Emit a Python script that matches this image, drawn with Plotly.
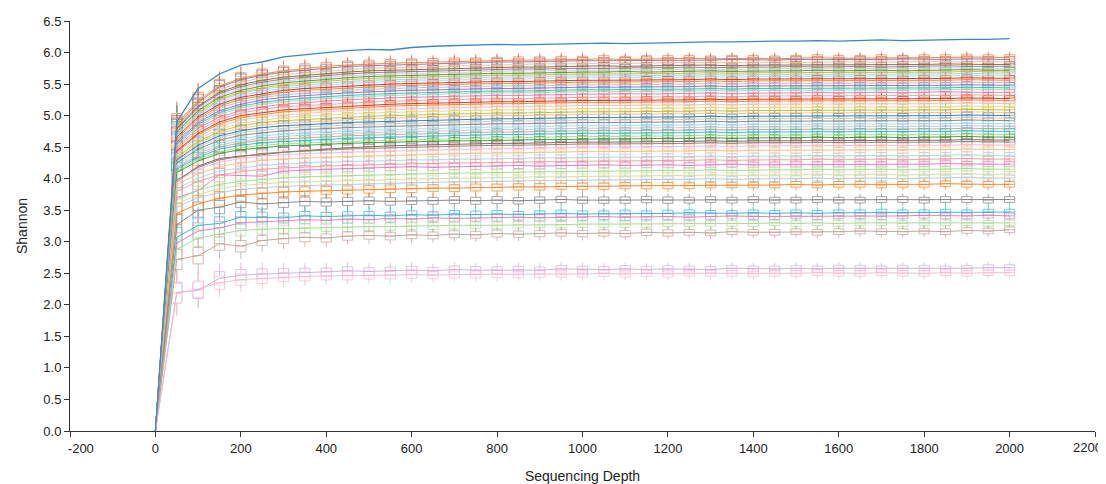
import plotly.graph_objects as go

# Sequencing depths (x categories)
depths = list(range(0, 2050, 50))

NB = "\u00a0"
x_tick_vals = [-200, 0, 200, 400, 600, 800, 1000, 1200, 1400, 1600, 1800, 2000, 2200]
x_tick_text = [NB * 6 + "-200", "0", "200", "400", "600", "800", "1000", "1200", "1400", "1600", "1800", "2000", ""]
last_tick_label = "2200"

# Top sample without replicate boxes
top_line = [0,
    4.90, 5.43, 5.66, 5.80, 5.85, 5.93, 5.97, 6.00, 6.03, 6.05,
    6.04, 6.08, 6.10, 6.11, 6.12, 6.13, 6.12, 6.13, 6.14, 6.15,
    6.15, 6.14, 6.15, 6.16, 6.16, 6.17, 6.17, 6.18, 6.18, 6.18,
    6.19, 6.18, 6.19, 6.20, 6.19, 6.20, 6.20, 6.21, 6.21, 6.22]

S01 = [0, 4.87, 5.24, 5.47, 5.59, 5.66, 5.71, 5.75, 5.78, 5.80, 5.82,
       5.83, 5.84, 5.85, 5.86, 5.86, 5.87, 5.88, 5.88, 5.89, 5.89,
       5.90, 5.89, 5.90, 5.90, 5.91, 5.90, 5.91, 5.91, 5.90, 5.91,
       5.92, 5.91, 5.91, 5.92, 5.91, 5.92, 5.92, 5.93, 5.92, 5.92]
S02 = [0, 4.84, 5.21, 5.45, 5.57, 5.64, 5.69, 5.72, 5.75, 5.78, 5.79,
       5.80, 5.82, 5.82, 5.83, 5.84, 5.85, 5.85, 5.86, 5.86, 5.87,
       5.87, 5.87, 5.88, 5.87, 5.88, 5.88, 5.89, 5.88, 5.88, 5.89,
       5.89, 5.88, 5.89, 5.89, 5.90, 5.89, 5.89, 5.90, 5.89, 5.89]
S03 = [0, 4.82, 5.18, 5.41, 5.53, 5.60, 5.65, 5.68, 5.71, 5.73, 5.75,
       5.76, 5.77, 5.78, 5.79, 5.80, 5.80, 5.81, 5.82, 5.82, 5.82,
       5.83, 5.83, 5.83, 5.84, 5.84, 5.83, 5.84, 5.84, 5.85, 5.84,
       5.85, 5.85, 5.84, 5.85, 5.85, 5.86, 5.85, 5.85, 5.86, 5.85]
S04 = [0, 4.80, 5.15, 5.37, 5.49, 5.56, 5.61, 5.64, 5.67, 5.69, 5.71,
       5.72, 5.73, 5.74, 5.75, 5.76, 5.76, 5.77, 5.77, 5.78, 5.78,
       5.79, 5.78, 5.79, 5.79, 5.80, 5.80, 5.79, 5.80, 5.80, 5.81,
       5.80, 5.81, 5.81, 5.80, 5.81, 5.81, 5.82, 5.81, 5.81, 5.81]
S05 = [0, 4.78, 5.13, 5.35, 5.46, 5.53, 5.58, 5.61, 5.64, 5.66, 5.68,
       5.69, 5.70, 5.71, 5.72, 5.72, 5.73, 5.74, 5.74, 5.75, 5.75,
       5.75, 5.76, 5.76, 5.76, 5.77, 5.76, 5.77, 5.77, 5.77, 5.78,
       5.77, 5.78, 5.78, 5.77, 5.78, 5.78, 5.79, 5.78, 5.78, 5.78]
S06 = [0, 4.75, 5.10, 5.32, 5.43, 5.50, 5.55, 5.58, 5.61, 5.63, 5.65,
       5.66, 5.67, 5.68, 5.69, 5.69, 5.70, 5.71, 5.71, 5.72, 5.72,
       5.72, 5.73, 5.73, 5.73, 5.74, 5.73, 5.74, 5.74, 5.74, 5.75,
       5.74, 5.75, 5.75, 5.74, 5.75, 5.75, 5.76, 5.75, 5.75, 5.75]
S07 = [0, 4.74, 5.08, 5.29, 5.40, 5.47, 5.52, 5.55, 5.58, 5.60, 5.62,
       5.63, 5.64, 5.65, 5.66, 5.66, 5.67, 5.67, 5.68, 5.68, 5.69,
       5.69, 5.70, 5.69, 5.70, 5.70, 5.71, 5.70, 5.71, 5.71, 5.71,
       5.72, 5.71, 5.72, 5.72, 5.71, 5.72, 5.72, 5.73, 5.72, 5.72]
S08 = [0, 4.71, 5.05, 5.26, 5.37, 5.44, 5.49, 5.52, 5.55, 5.57, 5.59,
       5.60, 5.61, 5.62, 5.63, 5.63, 5.64, 5.64, 5.65, 5.65, 5.66,
       5.66, 5.66, 5.67, 5.67, 5.67, 5.68, 5.67, 5.68, 5.68, 5.68,
       5.69, 5.68, 5.69, 5.69, 5.68, 5.69, 5.69, 5.70, 5.69, 5.69]
S09 = [0, 4.70, 5.03, 5.24, 5.35, 5.42, 5.46, 5.49, 5.52, 5.54, 5.56,
       5.57, 5.58, 5.59, 5.60, 5.60, 5.61, 5.61, 5.62, 5.62, 5.63,
       5.63, 5.63, 5.64, 5.64, 5.64, 5.65, 5.64, 5.65, 5.65, 5.65,
       5.66, 5.65, 5.66, 5.66, 5.65, 5.66, 5.66, 5.67, 5.66, 5.66]
S10 = [0, 4.68, 5.01, 5.21, 5.32, 5.39, 5.43, 5.46, 5.49, 5.51, 5.53,
       5.54, 5.55, 5.56, 5.57, 5.57, 5.58, 5.58, 5.59, 5.59, 5.60,
       5.60, 5.60, 5.61, 5.61, 5.61, 5.62, 5.61, 5.62, 5.62, 5.62,
       5.63, 5.62, 5.63, 5.63, 5.62, 5.63, 5.63, 5.64, 5.63, 5.63]
S11 = [0, 4.66, 4.98, 5.18, 5.29, 5.35, 5.40, 5.43, 5.45, 5.47, 5.49,
       5.50, 5.51, 5.52, 5.53, 5.53, 5.54, 5.54, 5.55, 5.55, 5.56,
       5.56, 5.56, 5.57, 5.57, 5.57, 5.58, 5.57, 5.58, 5.58, 5.58,
       5.59, 5.58, 5.59, 5.59, 5.58, 5.59, 5.59, 5.60, 5.59, 5.59]
S12 = [0, 4.63, 4.95, 5.15, 5.26, 5.32, 5.37, 5.40, 5.42, 5.44, 5.46,
       5.47, 5.48, 5.49, 5.50, 5.50, 5.51, 5.51, 5.52, 5.52, 5.53,
       5.53, 5.53, 5.54, 5.54, 5.54, 5.55, 5.54, 5.55, 5.55, 5.55,
       5.56, 5.55, 5.56, 5.56, 5.55, 5.56, 5.56, 5.57, 5.56, 5.56]
S13 = [0, 4.60, 4.92, 5.12, 5.22, 5.29, 5.33, 5.36, 5.38, 5.40, 5.42,
       5.43, 5.44, 5.45, 5.46, 5.46, 5.47, 5.47, 5.48, 5.48, 5.49,
       5.49, 5.49, 5.50, 5.50, 5.50, 5.51, 5.50, 5.51, 5.51, 5.51,
       5.52, 5.51, 5.52, 5.52, 5.51, 5.52, 5.52, 5.53, 5.52, 5.52]
S14 = [0, 4.58, 4.89, 5.08, 5.18, 5.25, 5.29, 5.32, 5.34, 5.36, 5.38,
       5.39, 5.40, 5.41, 5.42, 5.42, 5.43, 5.43, 5.44, 5.44, 5.45,
       5.45, 5.45, 5.46, 5.46, 5.46, 5.47, 5.46, 5.47, 5.47, 5.47,
       5.48, 5.47, 5.48, 5.48, 5.47, 5.48, 5.48, 5.49, 5.48, 5.48]
S15 = [0, 4.55, 4.86, 5.05, 5.15, 5.21, 5.25, 5.28, 5.30, 5.32, 5.34,
       5.35, 5.36, 5.37, 5.38, 5.38, 5.39, 5.39, 5.40, 5.40, 5.41,
       5.41, 5.41, 5.42, 5.42, 5.42, 5.43, 5.42, 5.43, 5.43, 5.43,
       5.44, 5.43, 5.44, 5.44, 5.43, 5.44, 5.44, 5.45, 5.44, 5.44]
S16 = [0, 4.53, 4.83, 5.02, 5.12, 5.18, 5.22, 5.25, 5.27, 5.29, 5.31,
       5.32, 5.33, 5.34, 5.34, 5.35, 5.36, 5.36, 5.37, 5.37, 5.38,
       5.38, 5.38, 5.39, 5.39, 5.39, 5.40, 5.39, 5.40, 5.40, 5.40,
       5.41, 5.40, 5.41, 5.41, 5.40, 5.41, 5.41, 5.42, 5.41, 5.41]
S17 = [0, 4.50, 4.80, 4.98, 5.08, 5.14, 5.18, 5.21, 5.23, 5.25, 5.27,
       5.28, 5.29, 5.30, 5.31, 5.31, 5.32, 5.32, 5.33, 5.33, 5.34,
       5.34, 5.35, 5.34, 5.35, 5.35, 5.36, 5.35, 5.36, 5.36, 5.36,
       5.37, 5.36, 5.37, 5.37, 5.36, 5.37, 5.38, 5.37, 5.37, 5.37]
S18 = [0, 4.47, 4.76, 4.94, 5.04, 5.10, 5.14, 5.16, 5.18, 5.20, 5.22,
       5.23, 5.24, 5.25, 5.26, 5.26, 5.27, 5.27, 5.28, 5.28, 5.29,
       5.29, 5.29, 5.30, 5.30, 5.30, 5.31, 5.30, 5.31, 5.31, 5.31,
       5.32, 5.31, 5.32, 5.32, 5.31, 5.32, 5.32, 5.33, 5.32, 5.32]
S19 = [0, 4.44, 4.72, 4.90, 5.00, 5.05, 5.09, 5.11, 5.13, 5.15, 5.17,
       5.18, 5.19, 5.20, 5.21, 5.21, 5.22, 5.22, 5.23, 5.23, 5.24,
       5.24, 5.24, 5.25, 5.25, 5.25, 5.26, 5.25, 5.26, 5.26, 5.26,
       5.27, 5.26, 5.27, 5.27, 5.26, 5.27, 5.27, 5.28, 5.27, 5.27]
S20 = [0, 4.42, 4.70, 4.87, 4.97, 5.02, 5.06, 5.08, 5.10, 5.12, 5.14,
       5.15, 5.16, 5.17, 5.18, 5.18, 5.19, 5.19, 5.20, 5.20, 5.21,
       5.21, 5.21, 5.22, 5.22, 5.22, 5.23, 5.22, 5.23, 5.23, 5.23,
       5.24, 5.23, 5.24, 5.24, 5.23, 5.24, 5.24, 5.25, 5.24, 5.24]
S21 = [0, 4.40, 4.67, 4.83, 4.93, 4.98, 5.01, 5.04, 5.06, 5.08, 5.09,
       5.10, 5.11, 5.12, 5.13, 5.13, 5.14, 5.14, 5.15, 5.15, 5.16,
       5.16, 5.16, 5.17, 5.17, 5.17, 5.18, 5.17, 5.18, 5.18, 5.18,
       5.19, 5.18, 5.19, 5.19, 5.18, 5.19, 5.19, 5.20, 5.19, 5.19]
S22 = [0, 4.37, 4.63, 4.79, 4.88, 4.93, 4.97, 4.99, 5.01, 5.03, 5.04,
       5.05, 5.06, 5.07, 5.08, 5.08, 5.09, 5.09, 5.10, 5.10, 5.11,
       5.11, 5.11, 5.12, 5.12, 5.12, 5.13, 5.12, 5.13, 5.13, 5.13,
       5.14, 5.13, 5.14, 5.14, 5.13, 5.14, 5.14, 5.15, 5.14, 5.14]
S23 = [0, 4.34, 4.59, 4.75, 4.84, 4.89, 4.92, 4.94, 4.96, 4.98, 4.99,
       5.00, 5.01, 5.02, 5.03, 5.03, 5.04, 5.04, 5.05, 5.05, 5.06,
       5.06, 5.06, 5.07, 5.07, 5.07, 5.08, 5.07, 5.08, 5.08, 5.08,
       5.09, 5.08, 5.09, 5.09, 5.08, 5.09, 5.09, 5.10, 5.09, 5.09]
S24 = [0, 4.32, 4.56, 4.72, 4.80, 4.85, 4.88, 4.90, 4.92, 4.94, 4.95,
       4.96, 4.97, 4.98, 4.99, 4.99, 5.00, 5.00, 5.01, 5.01, 5.02,
       5.02, 5.02, 5.03, 5.03, 5.03, 5.04, 5.03, 5.04, 5.04, 5.04,
       5.05, 5.04, 5.05, 5.05, 5.04, 5.05, 5.05, 5.06, 5.05, 5.05]
S25 = [0, 4.30, 4.53, 4.68, 4.76, 4.81, 4.84, 4.86, 4.88, 4.89, 4.90,
       4.91, 4.92, 4.93, 4.94, 4.94, 4.95, 4.95, 4.96, 4.96, 4.97,
       4.97, 4.97, 4.98, 4.98, 4.98, 4.99, 4.98, 4.99, 4.99, 4.99,
       5.00, 4.99, 5.00, 5.00, 4.99, 5.00, 5.00, 5.01, 5.00, 5.00]
S26 = [0, 4.27, 4.50, 4.65, 4.73, 4.77, 4.80, 4.82, 4.84, 4.85, 4.86,
       4.87, 4.88, 4.89, 4.90, 4.90, 4.91, 4.91, 4.92, 4.92, 4.93,
       4.93, 4.93, 4.94, 4.94, 4.94, 4.95, 4.94, 4.95, 4.95, 4.95,
       4.96, 4.95, 4.96, 4.96, 4.95, 4.96, 4.96, 4.97, 4.96, 4.96]
S27 = [0, 4.25, 4.47, 4.61, 4.69, 4.73, 4.76, 4.78, 4.80, 4.81, 4.82,
       4.83, 4.84, 4.85, 4.86, 4.86, 4.87, 4.87, 4.88, 4.88, 4.89,
       4.89, 4.89, 4.90, 4.90, 4.90, 4.91, 4.90, 4.91, 4.91, 4.91,
       4.92, 4.91, 4.92, 4.92, 4.91, 4.92, 4.92, 4.93, 4.92, 4.92]
S28 = [0, 4.22, 4.43, 4.57, 4.64, 4.68, 4.71, 4.73, 4.75, 4.76, 4.77,
       4.78, 4.79, 4.80, 4.81, 4.81, 4.82, 4.82, 4.83, 4.83, 4.84,
       4.84, 4.84, 4.85, 4.85, 4.85, 4.86, 4.85, 4.86, 4.86, 4.86,
       4.87, 4.86, 4.87, 4.87, 4.86, 4.87, 4.87, 4.88, 4.87, 4.87]
S29 = [0, 4.19, 4.40, 4.53, 4.60, 4.64, 4.67, 4.69, 4.71, 4.72, 4.73,
       4.74, 4.75, 4.76, 4.77, 4.77, 4.78, 4.78, 4.79, 4.79, 4.80,
       4.80, 4.80, 4.81, 4.81, 4.81, 4.82, 4.81, 4.82, 4.82, 4.82,
       4.83, 4.82, 4.83, 4.83, 4.82, 4.83, 4.83, 4.84, 4.83, 4.83]
S30 = [0, 4.17, 4.37, 4.50, 4.57, 4.61, 4.63, 4.65, 4.67, 4.68, 4.69,
       4.70, 4.71, 4.72, 4.73, 4.73, 4.74, 4.74, 4.75, 4.75, 4.76,
       4.76, 4.76, 4.77, 4.77, 4.77, 4.78, 4.77, 4.78, 4.78, 4.78,
       4.79, 4.78, 4.79, 4.79, 4.78, 4.79, 4.79, 4.80, 4.79, 4.79]
S31 = [0, 4.15, 4.34, 4.47, 4.53, 4.57, 4.59, 4.61, 4.63, 4.64, 4.65,
       4.66, 4.67, 4.68, 4.69, 4.69, 4.70, 4.70, 4.71, 4.71, 4.72,
       4.72, 4.72, 4.73, 4.73, 4.73, 4.74, 4.73, 4.74, 4.74, 4.74,
       4.75, 4.74, 4.75, 4.75, 4.74, 4.75, 4.75, 4.76, 4.75, 4.75]
S32 = [0, 4.12, 4.31, 4.43, 4.49, 4.53, 4.55, 4.57, 4.58, 4.59, 4.60,
       4.61, 4.62, 4.63, 4.64, 4.64, 4.65, 4.65, 4.66, 4.66, 4.67,
       4.67, 4.67, 4.68, 4.68, 4.68, 4.69, 4.68, 4.69, 4.69, 4.69,
       4.70, 4.69, 4.70, 4.70, 4.69, 4.70, 4.70, 4.71, 4.70, 4.70]
S33 = [0, 4.10, 4.28, 4.40, 4.46, 4.49, 4.52, 4.53, 4.55, 4.56, 4.57,
       4.58, 4.59, 4.59, 4.60, 4.60, 4.61, 4.61, 4.62, 4.62, 4.63,
       4.63, 4.63, 4.64, 4.64, 4.64, 4.65, 4.64, 4.65, 4.65, 4.65,
       4.66, 4.65, 4.66, 4.66, 4.65, 4.66, 4.66, 4.67, 4.66, 4.66]
S34 = [0, 3.95, 4.20, 4.32, 4.36, 4.38, 4.42, 4.45, 4.47, 4.49, 4.51,
       4.52, 4.53, 4.54, 4.55, 4.55, 4.56, 4.56, 4.57, 4.57, 4.58,
       4.58, 4.58, 4.59, 4.59, 4.59, 4.60, 4.59, 4.60, 4.60, 4.60,
       4.61, 4.60, 4.61, 4.61, 4.60, 4.61, 4.61, 4.62, 4.61, 4.61]
S35 = [0, 3.98, 4.18, 4.30, 4.35, 4.40, 4.42, 4.44, 4.46, 4.47, 4.48,
       4.49, 4.50, 4.51, 4.52, 4.52, 4.53, 4.53, 4.54, 4.54, 4.55,
       4.55, 4.55, 4.56, 4.56, 4.56, 4.57, 4.56, 4.57, 4.57, 4.57,
       4.58, 4.57, 4.58, 4.58, 4.57, 4.58, 4.58, 4.59, 4.58, 4.58]
S36 = [0, 3.96, 4.15, 4.26, 4.32, 4.36, 4.38, 4.40, 4.41, 4.42, 4.43,
       4.44, 4.45, 4.46, 4.47, 4.47, 4.48, 4.48, 4.49, 4.49, 4.50,
       4.50, 4.50, 4.51, 4.51, 4.51, 4.52, 4.51, 4.52, 4.52, 4.52,
       4.53, 4.52, 4.53, 4.53, 4.52, 4.53, 4.53, 4.54, 4.53, 4.53]
S37 = [0, 3.90, 4.08, 4.19, 4.25, 4.29, 4.31, 4.33, 4.34, 4.35, 4.36,
       4.37, 4.38, 4.39, 4.40, 4.40, 4.41, 4.41, 4.42, 4.42, 4.43,
       4.43, 4.43, 4.44, 4.44, 4.44, 4.45, 4.44, 4.45, 4.45, 4.45,
       4.46, 4.45, 4.46, 4.46, 4.45, 4.46, 4.46, 4.47, 4.46, 4.46]
S38 = [0, 3.84, 4.01, 4.12, 4.17, 4.21, 4.23, 4.25, 4.26, 4.27, 4.28,
       4.29, 4.30, 4.30, 4.31, 4.31, 4.32, 4.32, 4.33, 4.33, 4.34,
       4.34, 4.34, 4.35, 4.35, 4.35, 4.36, 4.35, 4.36, 4.36, 4.36,
       4.37, 4.36, 4.37, 4.37, 4.36, 4.37, 4.37, 4.38, 4.37, 4.37]
S39 = [0, 3.80, 3.96, 4.06, 4.11, 4.15, 4.17, 4.19, 4.20, 4.21, 4.22,
       4.23, 4.24, 4.24, 4.25, 4.25, 4.26, 4.26, 4.27, 4.27, 4.28,
       4.28, 4.28, 4.29, 4.29, 4.29, 4.30, 4.29, 4.30, 4.30, 4.30,
       4.31, 4.30, 4.31, 4.31, 4.30, 4.31, 4.31, 4.32, 4.31, 4.31]
S40 = [0, 3.70, 3.81, 4.06, 4.05, 4.04, 4.12, 4.14, 4.15, 4.16, 4.17,
       4.18, 4.19, 4.18, 4.19, 4.20, 4.20, 4.21, 4.20, 4.21, 4.21,
       4.22, 4.21, 4.22, 4.22, 4.21, 4.22, 4.23, 4.22, 4.22, 4.23,
       4.22, 4.23, 4.23, 4.22, 4.23, 4.23, 4.24, 4.23, 4.23, 4.23]
S41 = [0, 3.66, 3.82, 3.91, 3.96, 3.99, 4.01, 4.03, 4.04, 4.05, 4.06,
       4.07, 4.08, 4.08, 4.09, 4.09, 4.10, 4.10, 4.11, 4.11, 4.12,
       4.12, 4.12, 4.13, 4.13, 4.13, 4.14, 4.13, 4.14, 4.14, 4.14,
       4.15, 4.14, 4.15, 4.15, 4.14, 4.15, 4.15, 4.16, 4.15, 4.15]
S42 = [0, 3.60, 3.75, 3.84, 3.89, 3.92, 3.94, 3.95, 3.96, 3.97, 3.98,
       3.99, 4.00, 4.00, 4.01, 4.01, 4.02, 4.02, 4.03, 4.03, 4.04,
       4.04, 4.04, 4.05, 4.05, 4.05, 4.06, 4.05, 4.06, 4.06, 4.06,
       4.07, 4.06, 4.07, 4.07, 4.06, 4.07, 4.07, 4.08, 4.07, 4.07]
S43 = [0, 3.55, 3.70, 3.78, 3.83, 3.86, 3.88, 3.89, 3.90, 3.91, 3.92,
       3.93, 3.94, 3.94, 3.95, 3.95, 3.96, 3.96, 3.97, 3.97, 3.98,
       3.98, 3.98, 3.99, 3.99, 3.99, 4.00, 3.99, 4.00, 4.00, 4.00,
       4.01, 4.00, 4.01, 4.01, 4.00, 4.01, 4.01, 4.02, 4.01, 4.01]
S44 = [0, 3.45, 3.60, 3.69, 3.74, 3.77, 3.79, 3.80, 3.81, 3.82, 3.83,
       3.84, 3.84, 3.85, 3.85, 3.86, 3.86, 3.87, 3.87, 3.88, 3.88,
       3.88, 3.89, 3.89, 3.89, 3.89, 3.90, 3.90, 3.90, 3.90, 3.91,
       3.90, 3.91, 3.91, 3.90, 3.91, 3.91, 3.92, 3.91, 3.91, 3.91]
S45 = [0, 3.27, 3.50, 3.55, 3.63, 3.60, 3.62, 3.64, 3.63, 3.64, 3.65,
       3.64, 3.65, 3.65, 3.66, 3.65, 3.66, 3.65, 3.66, 3.67, 3.66,
       3.66, 3.66, 3.67, 3.66, 3.66, 3.67, 3.66, 3.67, 3.66, 3.66,
       3.67, 3.66, 3.66, 3.67, 3.67, 3.66, 3.67, 3.67, 3.66, 3.67]
S46 = [0, 3.07, 3.26, 3.29, 3.39, 3.39, 3.38, 3.41, 3.40, 3.41, 3.42,
       3.41, 3.43, 3.42, 3.44, 3.43, 3.44, 3.43, 3.44, 3.45, 3.44,
       3.44, 3.45, 3.44, 3.45, 3.46, 3.45, 3.45, 3.46, 3.45, 3.46,
       3.45, 3.46, 3.46, 3.47, 3.46, 3.46, 3.47, 3.46, 3.47, 3.47]
S47 = [0, 2.98, 3.17, 3.22, 3.30, 3.32, 3.33, 3.35, 3.34, 3.36, 3.35,
       3.37, 3.36, 3.38, 3.37, 3.38, 3.38, 3.39, 3.38, 3.39, 3.39,
       3.40, 3.39, 3.40, 3.40, 3.39, 3.40, 3.41, 3.40, 3.40, 3.41,
       3.40, 3.41, 3.41, 3.40, 3.41, 3.42, 3.41, 3.41, 3.42, 3.41]
S48 = [0, 2.88, 3.06, 3.12, 3.18, 3.20, 3.21, 3.22, 3.23, 3.23, 3.24,
       3.24, 3.25, 3.25, 3.26, 3.26, 3.26, 3.27, 3.27, 3.27, 3.28,
       3.28, 3.28, 3.28, 3.29, 3.29, 3.29, 3.29, 3.29, 3.30, 3.29,
       3.30, 3.29, 3.30, 3.30, 3.29, 3.30, 3.30, 3.30, 3.29, 3.30]
S49 = [0, 2.72, 2.78, 2.97, 2.93, 3.02, 3.05, 3.07, 3.06, 3.09, 3.10,
       3.09, 3.11, 3.10, 3.12, 3.11, 3.13, 3.12, 3.13, 3.14, 3.13,
       3.14, 3.13, 3.15, 3.14, 3.15, 3.14, 3.16, 3.15, 3.15, 3.16,
       3.15, 3.16, 3.17, 3.16, 3.16, 3.17, 3.16, 3.18, 3.17, 3.19]
S50 = [0, 2.20, 2.23, 2.42, 2.47, 2.49, 2.50, 2.51, 2.52, 2.54, 2.53,
       2.54, 2.55, 2.54, 2.56, 2.55, 2.55, 2.56, 2.55, 2.57, 2.56,
       2.56, 2.57, 2.56, 2.57, 2.57, 2.56, 2.58, 2.57, 2.57, 2.58,
       2.57, 2.58, 2.58, 2.57, 2.58, 2.58, 2.57, 2.58, 2.59, 2.59]
S51 = [0, 2.18, 2.25, 2.35, 2.40, 2.42, 2.44, 2.45, 2.46, 2.46, 2.47,
       2.47, 2.48, 2.47, 2.48, 2.48, 2.49, 2.48, 2.49, 2.49, 2.49,
       2.50, 2.49, 2.50, 2.49, 2.50, 2.50, 2.50, 2.49, 2.50, 2.50,
       2.51, 2.50, 2.50, 2.51, 2.50, 2.50, 2.51, 2.50, 2.51, 2.51]

samples = [S01, S02, S03, S04, S05, S06, S07, S08, S09, S10,
           S11, S12, S13, S14, S15, S16, S17, S18, S19, S20,
           S21, S22, S23, S24, S25, S26, S27, S28, S29, S30,
           S31, S32, S33, S34, S35, S36, S37, S38, S39, S40,
           S41, S42, S43, S44, S45, S46, S47, S48, S49, S50, S51]

sample_colors = [
    "#ff7f0e", "#9467bd", "#ffbb78", "#8c564b", "#7f7f7f", "#f7b6d2", "#2ca02c", "#bcbd22", "#aec7e8", "#9edae5",
    "#d62728", "#ff7f0e", "#c5b0d5", "#9467bd", "#17becf", "#98df8a", "#e377c2", "#ff9896", "#d62728", "#ff7f0e",
    "#f7b6d2", "#dbdb8d", "#bcbd22", "#ffbb78", "#1f77b4", "#c7c7c7", "#7f7f7f", "#9edae5", "#aec7e8", "#c49c94",
    "#17becf", "#98df8a", "#2ca02c", "#8c564b", "#7f7f7f", "#f7b6d2", "#ffbb78", "#9edae5", "#ff9896", "#e377c2",
    "#98df8a", "#dbdb8d", "#aec7e8", "#ff7f0e", "#7f7f7f", "#17becf", "#e377c2", "#98df8a", "#c49c94", "#c5b0d5",
    "#f7b6d2"]

# Replicate spread (interquartile range and whisker extension) per depth, 50..2000
box_iqr = [0.32, 0.26, 0.21, 0.18, 0.16, 0.15, 0.14, 0.13, 0.13, 0.12,
           0.12, 0.12, 0.11, 0.11, 0.11, 0.11, 0.10, 0.10, 0.10, 0.10,
           0.10, 0.10, 0.10, 0.10, 0.09, 0.09, 0.09, 0.09, 0.09, 0.09,
           0.09, 0.09, 0.09, 0.09, 0.09, 0.09, 0.09, 0.09, 0.09, 0.09]
whisker_ext = [0.20, 0.16, 0.13, 0.11, 0.10, 0.09, 0.08, 0.08, 0.07, 0.07,
               0.07, 0.07, 0.06, 0.06, 0.06, 0.06, 0.06, 0.06, 0.06, 0.06,
               0.05, 0.05, 0.05, 0.05, 0.05, 0.05, 0.05, 0.05, 0.05, 0.05,
               0.05, 0.05, 0.05, 0.05, 0.05, 0.05, 0.05, 0.05, 0.05, 0.05]

for i, s in enumerate(samples):
    if len(s) != len(depths):
        raise ValueError(f"sample {i+1} has {len(s)} values")


def rgba(hex_color, a):
    h = hex_color.lstrip("#")
    r, g, b = int(h[0:2], 16), int(h[2:4], 16), int(h[4:6], 16)
    return f"rgba({r},{g},{b},{a})"


fig = go.Figure()

# Lines first
for vals, col in zip(samples, sample_colors):
    fig.add_trace(go.Scatter(x=depths, y=vals, mode="lines",
                             line=dict(color=rgba(col, 0.9), width=1),
                             hoverinfo="skip", showlegend=False))

# Boxes at each depth (excluding depth 0)
for vals, col in zip(samples, sample_colors):
    med = vals[1:]
    q1 = [m - w / 2 for m, w in zip(med, box_iqr)]
    q3 = [m + w / 2 for m, w in zip(med, box_iqr)]
    lo = [a - e for a, e in zip(q1, whisker_ext)]
    hi = [b + e for b, e in zip(q3, whisker_ext)]
    fig.add_trace(go.Box(x=depths[1:], q1=q1, median=med, q3=q3,
                         lowerfence=lo, upperfence=hi,
                         width=24, whiskerwidth=0,
                         line=dict(color=rgba(col, 0.7), width=1),
                         fillcolor="rgba(255,255,255,0.55)",
                         boxpoints=False, hoverinfo="skip", showlegend=False))

fig.add_trace(go.Scatter(x=depths, y=top_line, mode="lines",
                         line=dict(color="#3a86c8", width=1.3),
                         hoverinfo="skip", showlegend=False))

axis_common = dict(showline=True, linecolor="#333333", linewidth=1,
                   ticks="outside", ticklen=5, tickcolor="#333333",
                   showgrid=False, zeroline=False, automargin=False,
                   ticklabeloverflow="allow",
                   tickfont=dict(size=13, color="#222222"))

# Last x tick label, nudged left so it stays inside the window
fig.add_annotation(x=x_tick_vals[-1], y=0, xref="x", yref="paper",
                   text=last_tick_label, showarrow=False,
                   xanchor="center", yanchor="top", xshift=-8, yshift=-7,
                   font=dict(size=13, color="#222222"))

# The page body adds an 8px offset, so the figure is sized to fit the window.
fig.update_layout(
    width=1098, height=476,
    margin=dict(l=62, r=11, t=13, b=53),
    paper_bgcolor="white", plot_bgcolor="white",
    showlegend=False, boxmode="overlay",
    font=dict(family="Liberation Sans, Arial, sans-serif", size=13, color="#222222"),
    xaxis=dict(range=[-200, 2200], tickmode="array",
               tickvals=x_tick_vals, ticktext=x_tick_text,
               title=dict(text="Sequencing Depth", font=dict(size=14), standoff=20),
               **axis_common),
    yaxis=dict(range=[0, 6.5], dtick=0.5, tick0=0, tickformat=".1f",
               title=dict(text="Shannon", font=dict(size=14), standoff=12),
               **axis_common),
)

fig.write_html("out.html")
